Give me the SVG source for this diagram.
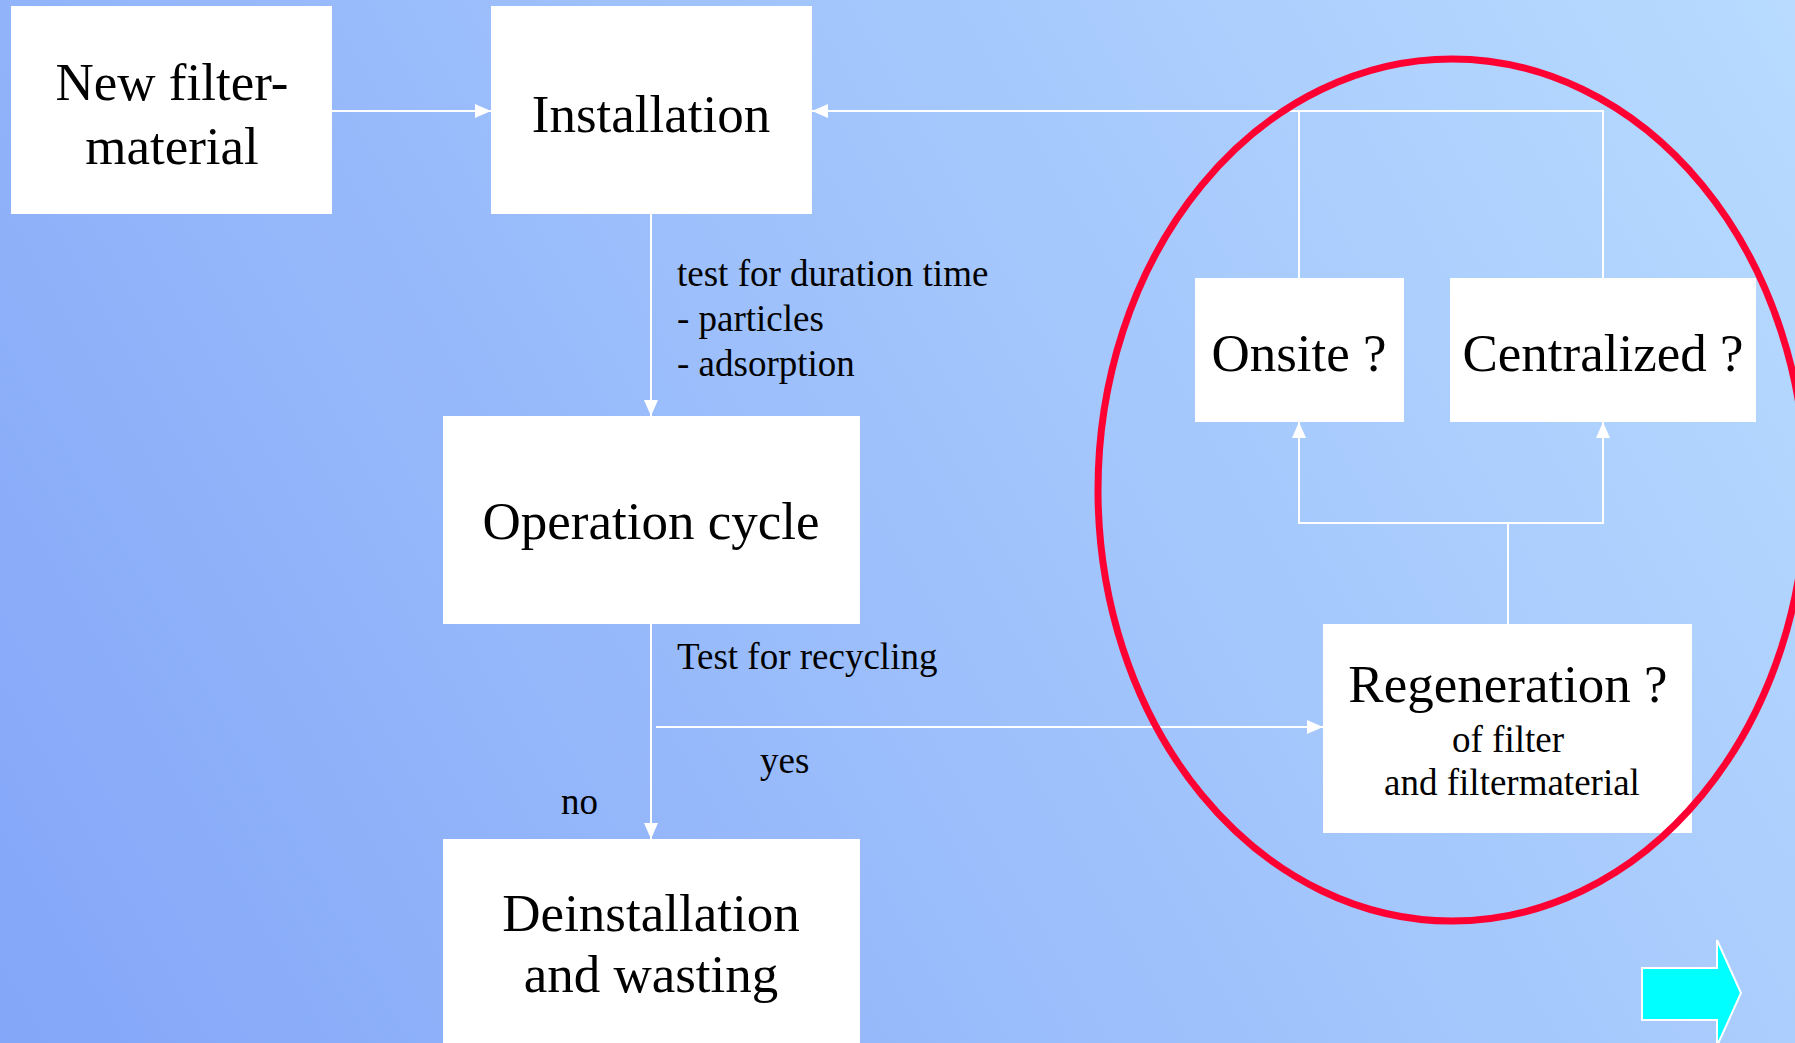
<svg xmlns="http://www.w3.org/2000/svg" width="1795" height="1043" viewBox="0 0 1795 1043">
  <defs>
    <linearGradient id="bg" gradientUnits="userSpaceOnUse" x1="0" y1="1043" x2="1795" y2="0">
      <stop offset="0" stop-color="#84a6f8"/>
      <stop offset="1" stop-color="#b8dbff"/>
    </linearGradient>
    <marker id="arrow" markerUnits="userSpaceOnUse" markerWidth="16" markerHeight="14" viewBox="0 0 16 14" refX="16" refY="7" orient="auto">
      <path d="M0,0 L16,7 L0,14 Z" fill="#ffffff"/>
    </marker>
    <style>
      .box { fill: #ffffff; }
      .big { font-family: "Liberation Serif", "Times New Roman", serif; font-size: 53px; fill: #000000; text-anchor: middle; }
      .small { font-family: "Liberation Serif", "Times New Roman", serif; font-size: 37px; fill: #000000; }
      .mid { text-anchor: middle; }
      .conn { fill: none; stroke: #ffffff; stroke-width: 2; }
    </style>
  </defs>

  <!-- background -->
  <rect x="0" y="0" width="1795" height="1043" fill="url(#bg)"/>

  <!-- connectors -->
  <g id="connectors" class="conn">
    <path d="M332,111 H491" marker-end="url(#arrow)"/>
    <path d="M1299,278 V111"/>
    <path d="M1603,278 V111 H812" marker-end="url(#arrow)"/>
    <path d="M651,214 V416" marker-end="url(#arrow)"/>
    <path d="M651,624 V839" marker-end="url(#arrow)"/>
    <path d="M656,727 H1323" marker-end="url(#arrow)"/>
    <path d="M1508,624 V523 H1299 V422" marker-end="url(#arrow)"/>
    <path d="M1508,523 H1603 V422" marker-end="url(#arrow)"/>
  </g>

  <!-- connector labels -->
  <g id="labels" class="small">
    <text x="677" y="286">test for duration time</text>
    <text x="677" y="331">- particles</text>
    <text x="677" y="376">- adsorption</text>
    <text x="677" y="669">Test for recycling</text>
    <text x="760" y="773">yes</text>
    <text x="561" y="814">no</text>
  </g>

  <!-- nodes -->
  <g id="new-filter-material">
    <rect class="box" x="11" y="6" width="321" height="208"/>
    <text class="big" x="172" y="100">New filter-</text>
    <text class="big" x="172" y="164">material</text>
  </g>

  <g id="installation">
    <rect class="box" x="491" y="6" width="321" height="208"/>
    <text class="big" x="651" y="132">Installation</text>
  </g>

  <g id="operation-cycle">
    <rect class="box" x="443" y="416" width="417" height="208"/>
    <text class="big" x="651" y="539">Operation cycle</text>
  </g>

  <g id="deinstallation">
    <rect class="box" x="443" y="839" width="417" height="210"/>
    <text class="big" x="651" y="931">Deinstallation</text>
    <text class="big" x="651" y="992">and wasting</text>
  </g>

  <g id="onsite">
    <rect class="box" x="1195" y="278" width="209" height="144"/>
    <text class="big" x="1299" y="371">Onsite ?</text>
  </g>

  <g id="centralized">
    <rect class="box" x="1450" y="278" width="306" height="144"/>
    <text class="big" x="1603" y="371">Centralized ?</text>
  </g>

  <g id="regeneration">
    <rect class="box" x="1323" y="624" width="369" height="209"/>
    <text class="big" x="1508" y="702">Regeneration ?</text>
    <text class="small mid" x="1508" y="752">of filter</text>
    <text class="small mid" x="1512" y="795">and filtermaterial</text>
  </g>

  <!-- highlight ring around the regeneration options -->
  <ellipse id="highlight" cx="1452" cy="490" rx="354" ry="431" fill="none" stroke="#ff0033" stroke-width="7"/>

  <!-- next-page button -->
  <g id="next-button">
    <path d="M1642,968 H1717 V940 L1741,993 L1717,1046 V1020 H1642 Z" fill="#00ffff" stroke="#ffffff" stroke-width="2"/>
  </g>
</svg>
